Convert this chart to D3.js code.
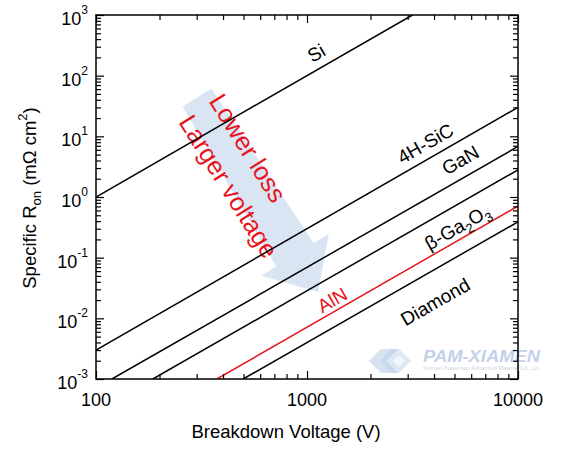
<!DOCTYPE html>
<html>
<head>
<meta charset="utf-8">
<script src="https://cdn.jsdelivr.net/npm/d3@7"></script>
<style>
  body { margin: 0; background: #fff; }
  svg { font-family: "Liberation Sans", Arial, sans-serif; }
</style>
</head>
<body>
<svg width="567" height="454"></svg>
<script>
// end points of each Ron-vs-breakdown line
let materials = ["Si", "4H-SiC", "GaN", "β-Ga2O3", "AlN", "Diamond"]
let voltLo = [100, 100, 119, 186, 374, 498]
let ronLo = [1, 0.003, 0.001, 0.001, 0.001, 0.001]
let voltHi = [3160, 10000, 10000, 10000, 10000, 10000]
let ronHi = [1000, 30, 6.8, 2.8, 0.71, 0.39]

// where the names sit, in data units
let labelVolt = [1107, 3640, 5330, 5160, 1317, 4055]
let labelRon = [236, 7.6, 4.07, 0.32, 0.02, 0.0187]

// tick values
let xTicks = [100, 1000, 10000]
let yExps = [-3, -2, -1, 0, 1, 2, 3]

// the big "lower loss" arrow, in data units
let arrowFrom = [301, 43.7]
let arrowTo = [1130, 0.0272]
let arrowText = ["Lower loss", "Larger voltage"]
let arrowTextVolt = [340, 245]
let arrowTextRon = [38.2, 17.2]

let svg = d3.select("svg")
let pLeft = 96, pRight = 518, pTop = 15, pBottom = 379
let red = "#e8141c"

let x = d3.scaleLog().domain([100, 10000]).range([pLeft, pRight])
let y = d3.scaleLog().domain([1e-3, 1e3]).range([pBottom, pTop])

svg.append("clipPath").attr("id", "plot")
  .append("rect")
  .attr("x", pLeft).attr("y", pTop)
  .attr("width", pRight - pLeft).attr("height", pBottom - pTop)

// minor ticks
let xMinor = []
for (let d of [100, 1000]) for (let k = 2; k < 10; k++) xMinor.push(d * k)
let yMinor = []
for (let e = -3; e < 3; e++) for (let k = 2; k < 10; k++) yMinor.push(k * Math.pow(10, e))
let yMajor = yExps.map(e => Math.pow(10, e))

// watermark, sits under the axes
let wm = svg.append("g").attr("opacity", 0.9)
let logo = wm.append("g").attr("transform", "translate(369,349)")
logo.append("path").attr("d", "M0,12 L12,0 L22,0 L10,12 L22,24 L12,24 Z").attr("fill", "#d3dff0")
logo.append("path").attr("d", "M10,12 L22,0 L30,0 L18,12 L30,24 L22,24 Z").attr("fill", "#c4d5ec")
logo.append("path").attr("d", "M18,12 L30,0 L42,12 L30,24 Z").attr("fill", "#dbe5f3")
logo.append("path").attr("d", "M24,12 L30,6 L36,12 L30,18 Z").attr("fill", "#f2f6fb")
wm.append("text")
  .attr("x", 423).attr("y", 362)
  .attr("font-size", 17).attr("font-weight", "bold").attr("font-style", "italic")
  .attr("textLength", 117).attr("lengthAdjust", "spacingAndGlyphs")
  .attr("fill", "#bccde6")
  .text("PAM-XIAMEN")
wm.append("text")
  .attr("x", 423).attr("y", 370)
  .attr("font-size", 5)
  .attr("textLength", 117).attr("lengthAdjust", "spacingAndGlyphs")
  .attr("fill", "#c9d3e2")
  .text("Xiamen Powerway Advanced Material Co.,Ltd.")

// arrow
let ax0 = x(arrowFrom[0]), ay0 = y(arrowFrom[1])
let ax1 = x(arrowTo[0]), ay1 = y(arrowTo[1])
let alen = Math.hypot(ax1 - ax0, ay1 - ay0)
let aang = Math.atan2(ay1 - ay0, ax1 - ax0) * 180 / Math.PI
let headLen = 44
let arrowPts = [
  [0, -17], [alen - headLen, -22], [alen - headLen, -40], [alen, 0],
  [alen - headLen, 40], [alen - headLen, 22], [0, 17]
]
svg.append("path")
  .attr("transform", `translate(${ax0},${ay0}) rotate(${aang})`)
  .attr("d", "M" + arrowPts.map(p => p.join(",")).join("L") + "Z")
  .attr("fill", "#d9e5f3")

svg.selectAll(".arrowtext")
  .data(arrowText)
  .join("text")
  .attr("class", "arrowtext")
  .attr("transform", (d, i) => `translate(${x(arrowTextVolt[i])},${y(arrowTextRon[i])}) rotate(${aang})`)
  .attr("font-size", 25.5)
  .attr("fill", red)
  .text(d => d)

// lines
let line = d3.line().x(d => x(d[0])).y(d => y(d[1]))
svg.append("g").attr("clip-path", "url(#plot)")
  .selectAll("path")
  .data(materials)
  .join("path")
  .attr("d", (d, i) => line([[voltLo[i], ronLo[i]], [voltHi[i], ronHi[i]]]))
  .attr("fill", "none")
  .attr("stroke", d => d == "AlN" ? red : "#000")
  .attr("stroke-width", 1.5)

// line names
let slopeAngle = i => Math.atan2(y(ronHi[i]) - y(ronLo[i]), x(voltHi[i]) - x(voltLo[i])) * 180 / Math.PI
let names = svg.selectAll(".name")
  .data(materials)
  .join("text")
  .attr("class", "name")
  .attr("transform", (d, i) => `translate(${x(labelVolt[i])},${y(labelRon[i])}) rotate(${slopeAngle(i)})`)
  .attr("text-anchor", "middle")
  .attr("dy", "0.35em")
  .attr("font-size", 19)
  .attr("fill", d => d == "AlN" ? red : "#000")
names.each(function (d) {
  let t = d3.select(this)
  if (d == "β-Ga2O3") {
    t.append("tspan").text("β-Ga")
    t.append("tspan").attr("font-size", 13).attr("dy", 5).text("2")
    t.append("tspan").attr("dy", -5).text("O")
    t.append("tspan").attr("font-size", 13).attr("dy", 5).text("3")
  } else {
    t.text(d)
  }
})

// axes: all ticks point inward
let axes = svg.append("g")
function tickAxis(axis, tx, ty, vals, size) {
  let g = axes.append("g")
    .attr("transform", `translate(${tx},${ty})`)
    .call(axis.tickValues(vals).tickSizeInner(-size).tickSizeOuter(0).tickFormat(""))
  g.select(".domain").remove()
  g.selectAll("line").attr("stroke", "#000").attr("stroke-width", 1.2)
  return g
}
tickAxis(d3.axisBottom(x), 0, pBottom, xTicks, 8)
tickAxis(d3.axisBottom(x), 0, pBottom, xMinor, 5)
tickAxis(d3.axisTop(x), 0, pTop, xTicks, 8)
tickAxis(d3.axisTop(x), 0, pTop, xMinor, 5)
tickAxis(d3.axisLeft(y), pLeft, 0, yMajor, 8)
tickAxis(d3.axisLeft(y), pLeft, 0, yMinor, 5)
tickAxis(d3.axisRight(y), pRight, 0, yMajor, 8)
tickAxis(d3.axisRight(y), pRight, 0, yMinor, 5)

axes.append("rect")
  .attr("x", pLeft).attr("y", pTop)
  .attr("width", pRight - pLeft).attr("height", pBottom - pTop)
  .attr("fill", "none").attr("stroke", "#000").attr("stroke-width", 1.5)

// tick labels
axes.selectAll(".xlab")
  .data(xTicks)
  .join("text")
  .attr("class", "xlab")
  .attr("x", d => x(d)).attr("y", pBottom + 27)
  .attr("text-anchor", "middle")
  .attr("font-size", 18)
  .text(d => d)

let ylab = axes.selectAll(".ylab")
  .data(yExps)
  .join("text")
  .attr("class", "ylab")
  .attr("x", pLeft - 8).attr("y", d => y(Math.pow(10, d)) + 10)
  .attr("text-anchor", "end")
  .attr("font-size", 18)
ylab.append("tspan").text("10")
ylab.append("tspan").attr("font-size", 12).attr("dy", -11).text(d => d)

// titles
svg.append("text")
  .attr("x", 286).attr("y", 438)
  .attr("text-anchor", "middle")
  .attr("font-size", 18.5)
  .text("Breakdown Voltage (V)")

let yt = svg.append("text")
  .attr("transform", "translate(36,198) rotate(-90)")
  .attr("text-anchor", "middle")
  .attr("font-size", 18.5)
yt.append("tspan").text("Specific R")
yt.append("tspan").attr("font-size", 13).attr("dy", 5).text("on")
yt.append("tspan").attr("dy", -5).text(" (mΩ cm")
yt.append("tspan").attr("font-size", 13).attr("dy", -9).text("2")
yt.append("tspan").attr("dy", 9).text(")")
</script>
</body>
</html>
